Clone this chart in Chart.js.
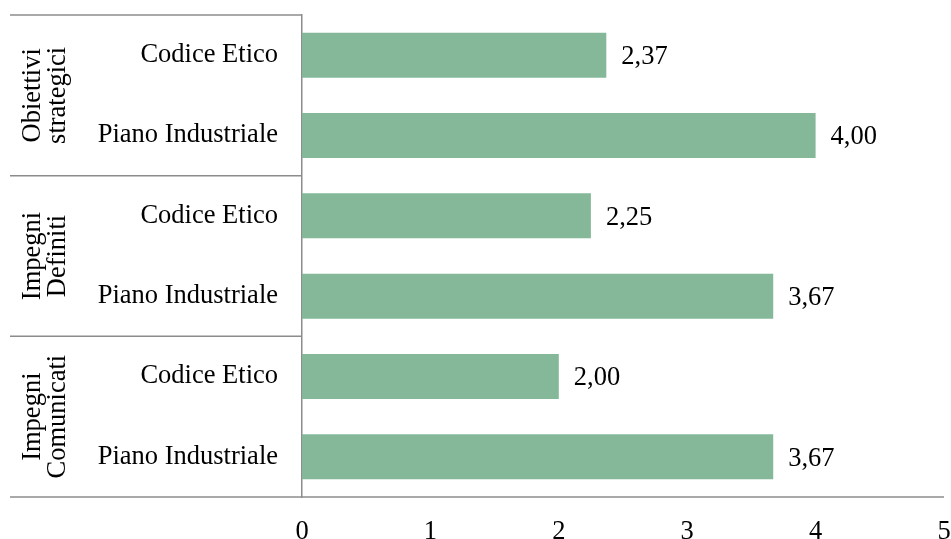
<!DOCTYPE html>
<html>
<head>
<meta charset="utf-8">
<script src="https://cdn.jsdelivr.net/npm/chart.js@4"></script>
<style>
  html, body { margin: 0; padding: 0; background: #fff; }
  #wrap { width: 951px; height: 539px; }
</style>
</head>
<body>
<div id="wrap"><canvas id="chart" width="951" height="539"></canvas></div>
<script>
const categorie = ['Codice Etico', 'Piano Industriale', 'Codice Etico', 'Piano Industriale', 'Codice Etico', 'Piano Industriale'];
const valori = [2.37, 4.00, 2.25, 3.67, 2.00, 3.67];
const gruppi = [['Obiettivi', 'strategici'], ['Impegni', 'Definiti'], ['Impegni', 'Comunicati']];
const tickX = [0, 1, 2, 3, 4, 5];

const FONT = '"Liberation Serif", "Times New Roman", serif';
const FSIZE = 26.5;
const LINE = '#8c8c8c';

// niente padding automatico per le etichette sporgenti
const noPad = s => { s.paddingLeft = s.paddingRight = s.paddingTop = s.paddingBottom = 0; };

const gruppiPlugin = {
    id: 'gruppi',
    afterDraw(chart) {
        const { ctx, chartArea, scales } = chart;
        const y = scales.y;
        const x0 = 10;
        // linee di separazione dei gruppi
        const bordi = [chartArea.top, y.getPixelForValue(1.5), y.getPixelForValue(3.5), chartArea.bottom];
        ctx.save();
        ctx.strokeStyle = LINE;
        ctx.lineWidth = 1.5;
        bordi.forEach((py, i) => {
            ctx.beginPath();
            ctx.moveTo(x0, py);
            ctx.lineTo(i === bordi.length - 1 ? chartArea.right : chartArea.left, py);
            ctx.stroke();
        });
        // etichette ruotate dei gruppi
        ctx.fillStyle = '#000';
        ctx.font = FSIZE + 'px ' + FONT;
        ctx.textAlign = 'center';
        ctx.textBaseline = 'middle';
        gruppi.forEach((righe, i) => {
            const cy = (bordi[i] + bordi[i + 1]) / 2;
            ctx.save();
            ctx.translate(46, cy);
            ctx.rotate(-Math.PI / 2);
            righe.forEach((t, j) => {
                ctx.fillText(t, 0, (j - (righe.length - 1) / 2) * 25);
            });
            ctx.restore();
        });
        ctx.restore();
    },
    afterDatasetsDraw(chart) {
        const { ctx } = chart;
        const meta = chart.getDatasetMeta(0);
        ctx.save();
        ctx.fillStyle = '#000';
        ctx.font = FSIZE + 'px ' + FONT;
        ctx.textAlign = 'left';
        ctx.textBaseline = 'middle';
        meta.data.forEach((bar, i) => {
            ctx.fillText(valori[i].toFixed(2).replace('.', ','), bar.x + 15, bar.y + 2);
        });
        ctx.restore();
    }
};

new Chart(document.getElementById('chart'), {
    type: 'bar',
    data: {
        labels: categorie,
        datasets: [{
            data: valori,
            backgroundColor: '#85b898',
            borderWidth: 0,
            categoryPercentage: 1,
            barPercentage: 0.56
        }]
    },
    options: {
        indexAxis: 'y',
        responsive: false,
        animation: false,
        events: [],
        layout: { padding: { left: 0, right: 7, top: 15, bottom: 0 } },
        plugins: { legend: { display: false }, tooltip: { enabled: false } },
        scales: {
            x: {
                min: 0,
                max: 5,
                afterBuildTicks: s => { s.ticks = tickX.map(v => ({ value: v })); },
                afterFit: s => { s.height = 42; noPad(s); },
                ticks: {
                    color: '#000',
                    font: { family: FONT, size: FSIZE },
                    padding: 19
                },
                grid: { display: false, drawTicks: false },
                border: { display: false }
            },
            y: {
                afterFit: s => { s.width = 302; noPad(s); },
                ticks: {
                    color: '#000',
                    font: { family: FONT, size: FSIZE },
                    padding: 24
                },
                grid: { display: false, drawTicks: false },
                border: { color: LINE, width: 1.5 }
            }
        }
    },
    plugins: [gruppiPlugin]
});
</script>
</body>
</html>
